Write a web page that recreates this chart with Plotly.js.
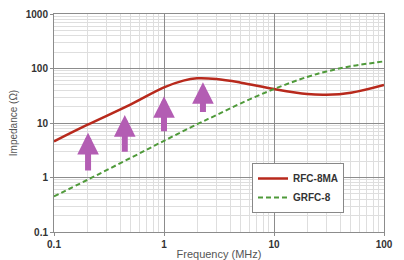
<!DOCTYPE html>
<html>
<head>
<meta charset="utf-8">
<script src="https://cdn.plot.ly/plotly-3.0.1.min.js"></script>
<style>
html,body{margin:0;padding:0;background:#fff;}
#chart{width:404px;height:260px;}
</style>
</head>
<body>
<div id="chart"></div>
<script>
// Frequency (MHz) and impedance (Ohm)
const rfcFreq = [0.1, 0.2, 0.5, 1, 1.5, 2, 3, 5, 10, 20, 30, 50, 100];
const rfcZ    = [4.6, 9.2, 22, 45, 60, 66, 64, 55, 42, 34, 33, 36, 50];
const grfcFreq = [0.1, 0.2, 0.5, 1, 2, 3, 5, 10, 20, 30, 50, 100];
const grfcZ    = [0.45, 0.9, 2.3, 4.7, 9.5, 14, 23, 42, 70, 88, 110, 135];
// Arrows: frequency, tail impedance, tip impedance
const arrowFreq = [0.204, 0.44, 1.0, 2.26];
const arrowTail = [1.26, 2.8, 6.6, 15];
const arrowTip  = [6.6, 14, 31, 56];
const xTickVals = [0.1, 1, 10, 100];
const xTickText = ['0.1', '1', '10', '100'];
const yTickVals = [0.1, 1, 10, 100, 1000];
const yTickText = ['0.1', '1', '10', '100', '1000'];
const seriesNames = ['RFC-8MA', 'GRFC-8'];

const traces = [
  {x: rfcFreq, y: rfcZ, name: seriesNames[0], type: 'scatter', mode: 'lines',
   line: {color: '#b8291c', width: 2.5, shape: 'spline', smoothing: 1}},
  {x: grfcFreq, y: grfcZ, name: seriesNames[1], type: 'scatter', mode: 'lines',
   line: {color: '#4f9a3a', width: 2, dash: '5px,3px', shape: 'spline', smoothing: 1}}
];

const annotations = arrowFreq.map((f, i) => ({
  x: Math.log10(f), y: Math.log10(arrowTip[i]),
  ax: Math.log10(f), ay: Math.log10(arrowTail[i]),
  xref: 'x', yref: 'y', axref: 'x', ayref: 'y',
  text: '', showarrow: true, arrowhead: 2, arrowwidth: 6, arrowsize: 0.72,
  arrowcolor: '#b35db3', standoff: 0
}));

const tickFont = {family: 'Liberation Sans, Arial, sans-serif', size: 10, color: '#333', weight: 'bold'};

const layout = {
  width: 404, height: 260,
  margin: {l: 54, r: 20, t: 14, b: 28},
  paper_bgcolor: '#fff', plot_bgcolor: '#fff',
  showlegend: true,
  legend: {x: 0.6, y: 0.3165, xanchor: 'left', yanchor: 'top',
    bgcolor: '#fff', bordercolor: '#888', borderwidth: 1,
    font: {family: 'Liberation Sans, Arial, sans-serif', size: 10, color: '#333', weight: 'bold'},
    tracegroupgap: 0},
  xaxis: {type: 'log', range: [-1, 2], tickvals: xTickVals, ticktext: xTickText,
    tickfont: tickFont, showgrid: true, gridcolor: '#8c8c8c', gridwidth: 1,
    showline: true, linecolor: '#8c8c8c', mirror: true, zeroline: false,
    ticks: 'outside', ticklen: 3, tickcolor: '#8c8c8c',
    minor: {dtick: 'D1', showgrid: true, gridcolor: '#dedede', gridwidth: 1},
    title: {text: 'Frequency (MHz)', standoff: 2,
      font: {family: 'Liberation Sans, Arial, sans-serif', size: 11, color: '#555'}},
    automargin: false},
  yaxis: {type: 'log', range: [-1, 3], tickvals: yTickVals, ticktext: yTickText,
    tickfont: tickFont, showgrid: true, gridcolor: '#8c8c8c', gridwidth: 1,
    showline: true, linecolor: '#8c8c8c', mirror: true, zeroline: false,
    ticks: 'outside', ticklen: 3, tickcolor: '#8c8c8c',
    minor: {dtick: 'D1', showgrid: true, gridcolor: '#dedede', gridwidth: 1},
    title: {text: 'Impedance (\u03A9)', standoff: 6,
      font: {family: 'Liberation Sans, Arial, sans-serif', size: 10, color: '#555'}},
    automargin: false},
  annotations: annotations
};

Plotly.newPlot('chart', traces, layout, {displayModeBar: false, staticPlot: true});
</script>
</body>
</html>
